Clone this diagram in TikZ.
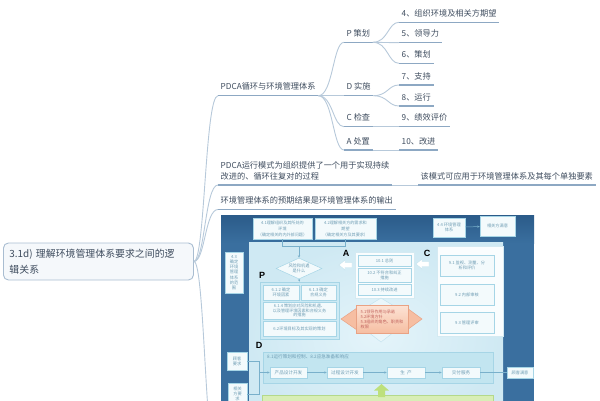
\documentclass[tikz,border=0pt]{standalone}
\usepackage{fontspec}
\setmainfont{Noto Sans CJK SC}
\newfontfamily\labfont{Liberation Sans}
\usetikzlibrary{arrows.meta,shapes.geometric}
\definecolor{txt}{HTML}{3E4C5E}
\definecolor{ulc}{HTML}{8DA8C3}
\definecolor{conc}{HTML}{B7C9DA}
\definecolor{rootfill}{HTML}{F5F8FB}
\definecolor{rootdraw}{HTML}{A9BDD1}
\definecolor{fdark}{HTML}{3A6F9F}
\definecolor{fdarker}{HTML}{2B5B89}
\definecolor{pan}{HTML}{CFE9F3}
\definecolor{panin}{HTML}{E4F4FA}
\definecolor{bxd}{HTML}{A6D5E6}
\definecolor{bxf}{HTML}{F3FAFC}
\definecolor{tt}{HTML}{6F9DB4}
\definecolor{pgf}{HTML}{CDEAF4}
\definecolor{peach}{HTML}{F6BEA2}
\definecolor{peachl}{HTML}{FCE3D5}
\definecolor{peachd}{HTML}{E9A284}
\definecolor{sttxt}{HTML}{C0605A}
\definecolor{dband}{HTML}{C2E5F0}
\definecolor{gband}{HTML}{D8EEB6}
\definecolor{gdraw}{HTML}{B4D98A}
\definecolor{garrow}{HTML}{BDE07C}
\definecolor{flc}{HTML}{79B0CB}
\definecolor{wpan}{HTML}{FAFDFE}
\definecolor{wpand}{HTML}{D4EAF2}
\definecolor{lightarr}{HTML}{EAF6FA}
\definecolor{lightarrd}{HTML}{C5E3EE}
\begin{document}
\begin{tikzpicture}[x=1pt,y=-1pt,
  ul/.style={draw=ulc, line width=1.3pt},
  con/.style={draw=conc, line width=0.9pt},
  mm/.style={font=\fontsize{8.2}{10.5}\selectfont, text=txt, inner xsep=2.5pt, inner ysep=0pt,
    text height=7pt, text depth=5.6pt, anchor=south west,
    append after command={(\tikzlastnode.south west) edge[ul] (\tikzlastnode.south east)}},
  rootbox/.style={draw=rootdraw, fill=rootfill, line width=0.9pt, rounded corners=5pt,
    font=\fontsize{9.9}{16}\selectfont, text=txt, align=left, text width=178pt, minimum height=37,
    inner xsep=6pt, anchor=west},
  bx/.style={draw=bxd, fill=bxf, line width=0.5pt, font=\fontsize{4.2}{5.2}\selectfont,
    text=tt, align=center, inner sep=0.5pt},
  wp/.style={draw=wpand, fill=wpan, line width=0.6pt, inner sep=0pt},
  lbl/.style={font=\labfont\bfseries\fontsize{9}{9}\selectfont, text=black, inner sep=0pt},
  fl/.style={draw=flc, line width=0.5pt},
  fla/.style={fl, -{Stealth[length=2.5pt,width=2.2pt]}}
]
\useasboundingbox (0,0) rectangle (600,400);
\clip (0,0) rectangle (600,400);

% ---------------- mind map ----------------
\node[rootbox] (root) at (3,261.5) {3.1d) 理解环境管理体系要求之间的逻\\辑关系};

\node[mm] (pdca) at (218,95.7) {PDCA循环与环境管理体系};
\node[mm, text height=18pt] (mode) at (218,185) {\begin{tabular}[b]{@{}l@{}}PDCA运行模式为组织提供了一个用于实现持续\\改进的、循环往复对的过程\end{tabular}};
\node[mm] (apply) at (418,185) {该模式可应用于环境管理体系及其每个单独要素};
\node[mm] (out) at (218,209.5) {环境管理体系的预期结果是环境管理体系的输出};
\coordinate (imgc) at (218,470);

\node[mm] (P) at (344,42.3) {P 策划};
\node[mm] (D) at (344,95.7) {D 实施};
\node[mm] (C) at (344,126.7) {C 检查};
\node[mm] (A) at (344,150) {A 处置};

\node[mm] (g4) at (399,22.3) {4、组织环境及相关方期望};
\node[mm] (g5) at (399,42.7) {5、领导力};
\node[mm] (g6) at (399,63.3) {6、策划};
\node[mm] (g7) at (399,85) {7、支持};
\node[mm] (g8) at (399,106) {8、运行};
\node[mm] (g9) at (399,126.7) {9、绩效评价};
\node[mm] (g10) at (399,150) {10、改进};

\draw[con] (root.east) .. controls (205,261.5) and (205,95.7) .. (pdca.south west);
\draw[con] (root.east) .. controls (205,261.5) and (205,185) .. (mode.south west);
\draw[con] (root.east) .. controls (205,261.5) and (205,209.5) .. (out.south west);
\draw[con] (root.east) .. controls (205,261.5) and (205,470) .. (imgc);
\draw[con] (mode.south east) -- (apply.south west);

\draw[con] (pdca.south east) .. controls (333,95.7) and (333,42.3) .. (P.south west);
\draw[con] (pdca.south east) -- (D.south west);
\draw[con] (pdca.south east) .. controls (333,95.7) and (333,126.7) .. (C.south west);
\draw[con] (pdca.south east) .. controls (333,95.7) and (333,150) .. (A.south west);

\draw[con] (P.south east) .. controls (388,42.3) and (388,22.3) .. (g4.south west);
\draw[con] (P.south east) -- (g5.south west);
\draw[con] (P.south east) .. controls (388,42.3) and (388,63.3) .. (g6.south west);
\draw[con] (D.south east) .. controls (388,95.7) and (388,85) .. (g7.south west);
\draw[con] (D.south east) .. controls (388,95.7) and (388,106) .. (g8.south west);
\draw[con] (C.south east) -- (g9.south west);
\draw[con] (A.south east) -- (g10.south west);

% ---------------- embedded figure ----------------
\fill[fdark] (221,215) rectangle (534,430);
\shade[top color=fdarker, bottom color=fdark] (221,215) rectangle (534,243);
\shade[inner color=panin, outer color=pan] (249,242) rectangle (503,430);

% top row
\node[bx, minimum width=59, minimum height=21, font=\fontsize{4.1}{6}\selectfont] (t1) at (282.5,228.5) {4.1理解组织及其所处的\\环境\\（确定相关的内外部问题）};
\node[bx, minimum width=61, minimum height=21, font=\fontsize{4.1}{6}\selectfont] (t2) at (345.5,228.5) {4.2理解相关方的需求和\\期望\\（确定相关方及其要求）};
\node[bx, minimum width=32, minimum height=19] (t3) at (449,227.5) {4.4 环境管理\\体系};
\node[bx, minimum width=35, minimum height=20] (t4) at (497.5,226) {相关方满意};
\draw[fla] (t3) -- (t4);

% left scope box
\node[bx, minimum width=18, minimum height=41] (l43) at (234,272.5) {4.3\\确定\\环境\\管理\\体系\\的范\\围};

% diamond
\node[diamond, draw=bxd, fill=bxf, line width=0.5pt, minimum width=46, minimum height=21, aspect=2.2, inner sep=0pt,
  font=\fontsize{4.2}{5.2}\selectfont, text=tt, align=center] (dia) at (299,268.5) {风险和机遇\\是什么};
\coordinate (mg) at (299,246);
\draw[fl] (t1.south) |- (mg);
\draw[fl] (t2.south) |- (mg);
\draw[fla] (mg) -- (dia.north);

% P group
\node[draw=bxd, fill=pgf, line width=0.6pt, minimum width=79, minimum height=57, inner sep=0pt] (pp) at (299.5,310.5) {};
\draw[fla] (dia.south) -- (pp.north);
\node[bx, minimum width=36, minimum height=15] (p1) at (281,292.5) {6.1.2 确定\\环境因素};
\node[bx, minimum width=35, minimum height=15] (p2) at (318.5,292.5) {6.1.3 确定\\合规义务};
\node[bx, minimum width=73, minimum height=17, font=\fontsize{4.1}{4.9}\selectfont] (p3) at (299.5,310.5) {6.1.4 策划应对风险和机遇、\\以及管理环境因素和合规义务\\的措施};
\node[bx, minimum width=73, minimum height=15] (p4) at (299.5,328.5) {6.2环境目标及其实现的策划};

% A group
\node[wp, minimum width=59, minimum height=46] (ap) at (384.5,275) {};
\node[bx, minimum width=53, minimum height=11] (a1) at (384.5,260.5) {10.1 总则};
\node[bx, minimum width=53, minimum height=14] (a2) at (384.5,275) {10.2 不符合和纠正\\措施};
\node[bx, minimum width=53, minimum height=11] (a3) at (384.5,289.5) {10.3 持续改进};

% C group
\node[wp, minimum width=66, minimum height=90] (cp) at (470,291) {};
\node[bx, minimum width=54, minimum height=21] (c1) at (467,265.5) {9.1 监视、测量、分\\析和评价};
\node[bx, minimum width=54, minimum height=21] (c2) at (467,294.5) {9.2 内部审核};
\node[bx, minimum width=54, minimum height=21] (c3) at (467,322.5) {9.3 管理评审};

% cycle arrows (white)
\fill[white, draw=lightarrd, line width=0.4pt] (339,265) -- (345,260) -- (345,262.5) -- (352,262.5) -- (352,267.5) -- (345,267.5) -- (345,270) -- cycle;
\fill[white, draw=lightarrd, line width=0.4pt] (416,264) -- (422,259) -- (422,261.5) -- (429,261.5) -- (429,266.5) -- (422,266.5) -- (422,269) -- cycle;

% central leadership shape
\fill[lightarr, draw=lightarrd, line width=0.5pt] (381,298) -- (394,306) -- (368,306) -- cycle;
\fill[lightarr, draw=lightarrd, line width=0.5pt] (381,342) -- (394,332) -- (368,332) -- cycle;
\fill[peach, draw=peachd, line width=0.5pt] (341,319) -- (357,308) -- (357,330) -- cycle;
\fill[peach, draw=peachd, line width=0.5pt] (422,319) -- (407,308) -- (407,330) -- cycle;
\node[draw=peachd, line width=0.5pt, top color=peachl, bottom color=peach, minimum width=52, minimum height=28,
  inner sep=1pt, font=\fontsize{4.1}{5}\selectfont, text=sttxt, align=left] (st) at (382,319)
  {5.1领导作用与承诺\\5.2环境方针\\5.3组织的角色、职责和\\权限};

% labels
\node[lbl] (lp) at (262,275) {P};
\node[lbl] (la) at (346,253) {A};
\node[lbl] (lc) at (427,253) {C};
\node[lbl] (ld) at (259,345) {D};

% D band
\node[draw=bxd, fill=dband, line width=0.6pt, minimum width=230, minimum height=31, inner sep=0pt] (db) at (378,367.5) {};
\node[font=\fontsize{4.6}{5}\selectfont, text=tt, anchor=west, inner sep=0pt] (dt) at (267,357) {8.1运行策划和控制、8.2应急准备和响应};
\node[bx, minimum width=37, minimum height=11, font=\fontsize{4.6}{5}\selectfont] (b1) at (288.5,372.5) {产品设计开发};
\node[bx, minimum width=36, minimum height=11, font=\fontsize{4.6}{5}\selectfont] (b2) at (345,372.5) {过程设计开发};
\node[bx, minimum width=38, minimum height=11, font=\fontsize{4.6}{5}\selectfont] (b3) at (406,372.5) {生\enspace 产};
\node[bx, minimum width=38, minimum height=11, font=\fontsize{4.6}{5}\selectfont] (b4) at (461,372.5) {交付服务};
\node[bx, minimum width=26, minimum height=11] (cs) at (520,372.5) {顾客满意};
\draw[fla] (b1) -- (b2);
\draw[fla] (b2) -- (b3);
\draw[fla] (b3) -- (b4);
\draw[fl] (b4) -- (cs);

\node[bx, minimum width=20, minimum height=18] (cr) at (237,361) {顾客\\要求};
\node[bx, minimum width=19, minimum height=22] (orq) at (237.5,394) {相关\\方要\\求};
\coordinate (jn) at (259,372.5);
\draw[fl] (cr.east) -| (jn);
\draw[fl] (orq.east) -| (jn);
\draw[fla] (jn) -- (b1.west);

% green support band and arrow
\node[draw=gdraw, fill=gband, line width=0.6pt, minimum width=231, minimum height=35, inner sep=0pt] (gb) at (377.5,412.5) {};
\fill[garrow] (381.5,384) -- (389,390.5) -- (385,390.5) -- (385,397) -- (378,397) -- (378,390.5) -- (374,390.5) -- cycle;
\end{tikzpicture}
\end{document}
